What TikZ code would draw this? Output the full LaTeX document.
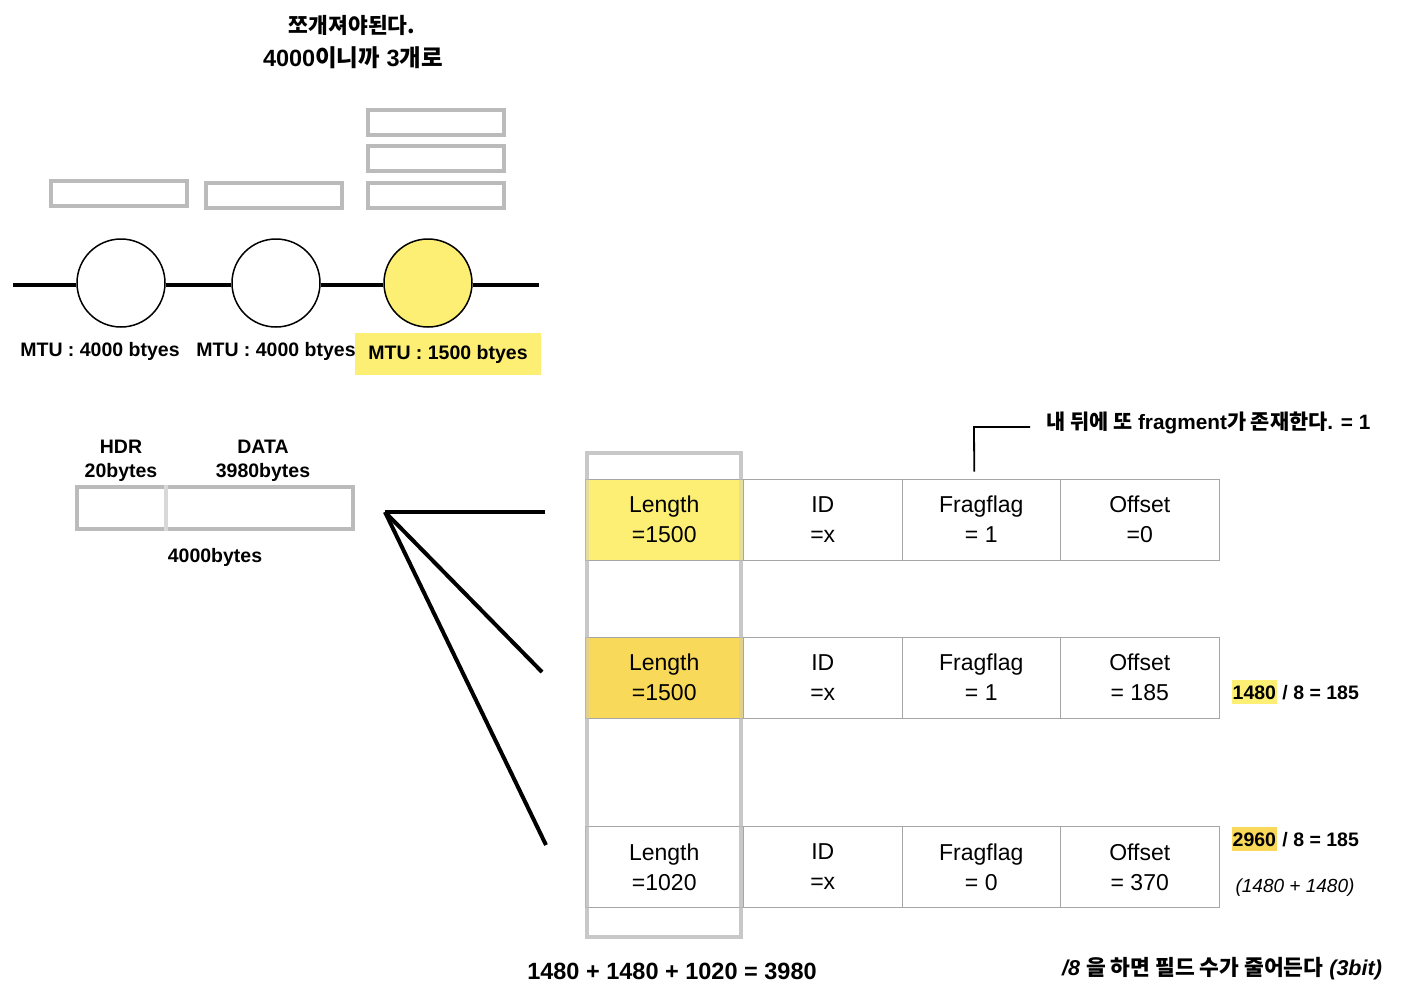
\documentclass[tikz,border=0pt]{standalone}
\usepackage{fontspec}
\setmainfont{Liberation Sans}
\newfontfamily\kr{Noto Sans CJK KR}
\usetikzlibrary{calc}
\definecolor{boxgray}{HTML}{BBBBBB}
\definecolor{divgray}{HTML}{D8D8D8}
\definecolor{colgray}{HTML}{C8C8C8}
\definecolor{cellgray}{HTML}{A6A6A6}
\definecolor{hlA}{HTML}{FDEF74}
\definecolor{hlB}{HTML}{F9D95A}
\begin{document}
\begin{tikzpicture}[x=1pt,y=-1pt,
 lbl/.style={font=\fontsize{19.5}{24}\selectfont\bfseries, inner sep=0, align=center},
 klbl/.style={font=\fontsize{20.8}{24}\selectfont\bfseries, inner sep=0},
 kttl/.style={font=\fontsize{22}{25}\selectfont\bfseries, inner sep=0},
 gbox/.style={draw=boxgray, line width=4, minimum width=136, minimum height=25, inner sep=0},
 router/.style={circle, draw=black, line width=1.5, minimum size=88, inner sep=0, fill=white},
 cell/.style={draw=cellgray, line width=1, minimum width=158.5, minimum height=81, inner sep=0, align=center, font=\fontsize{23}{30}\selectfont},
 wire/.style={line width=4, black},
 hl/.style={inner xsep=0.5, inner ysep=5, font=\fontsize{19.5}{24}\selectfont\bfseries, anchor=base west},
]
\useasboundingbox[fill=white] (0,0) rectangle (1402,1002);

% title
\node[kttl, font=\fontsize{21.5}{25}\selectfont\bfseries] (t1) at (352,25) {{\kr 쪼개져야된다.}};
\node[kttl, font=\fontsize{23.5}{27}\selectfont\bfseries] (t2) at (353,58) {4000{\kr 이니까} 3{\kr 개로}};

% packets above routers
\node[gbox] (p1) at (119,193) {};
\node[gbox] (p2) at (273.5,195.5) {};
\node[gbox] (p3a) at (436,122.5) {};
\node[gbox] (p3b) at (436,158.5) {};
\node[gbox] (p3c) at (436,195.5) {};

% network line with routers
\coordinate (wL) at (13,285);
\coordinate (wR) at (539,285);
\node[router] (r1) at (121,283) {};
\node[router] (r2) at (276,283) {};
\node[router, fill=hlA] (r3) at (428,283) {};
\draw[wire] (wL) -- (r1.west |- wL);
\draw[wire] (r1.east |- wL) -- (r2.west |- wL);
\draw[wire] (r2.east |- wL) -- (r3.west |- wL);
\draw[wire] (r3.east |- wL) -- (wR);

\node[lbl] (m1) at (100,351) {MTU : 4000 btyes};
\node[lbl] (m2) at (276,351) {MTU : 4000 btyes};
\node[lbl, fill=hlA, minimum width=186, minimum height=42] (m3) at (448,354) {MTU : 1500 btyes};

% original packet
\node[lbl] (hdrl) at (121,461) {HDR\\20bytes};
\node[lbl] (datal) at (263,461) {DATA\\3980bytes};
\node[draw=boxgray, line width=4, minimum width=276, minimum height=42, inner sep=0] (pkt) at (215,508) {};
\draw[divgray, line width=4] ($(pkt.north west)+(91,0)$) -- ($(pkt.south west)+(91,0)$);
\node[lbl] (pktl) at (215,557) {4000bytes};

% fan
\coordinate (fan) at (385,512);
\coordinate (f1) at (545,512);
\coordinate (f2) at (542,672);
\coordinate (f3) at (546,845);
\draw[wire] (fan) -- (f1);
\draw[wire] (fan) -- (f2);
\draw[wire] (fan) -- (f3);

% length column frame (behind the cells' fill, shown through)
\node[draw=colgray, line width=4, minimum width=154, minimum height=484, inner sep=0] (lencol) at (664,695) {};

% fragments
\node[cell, fill=hlA] (c11) at (664.25,519.5) {Length\\=1500};
\node[cell] (c12) at (822.75,519.5) {ID\\=x};
\node[cell] (c13) at (981.25,519.5) {Fragflag\\= 1};
\node[cell] (c14) at (1139.75,519.5) {Offset\\=0};

\node[cell, fill=hlB] (c21) at (664.25,677.5) {Length\\=1500};
\node[cell] (c22) at (822.75,677.5) {ID\\=x};
\node[cell] (c23) at (981.25,677.5) {Fragflag\\= 1};
\node[cell] (c24) at (1139.75,677.5) {Offset\\= 185};

\node[cell] (c31) at (664.25,867) {Length\\=1020};
\node[cell] (c32) at (822.75,867) {ID\\=x};
\node[cell] (c33) at (981.25,867) {Fragflag\\= 0};
\node[cell] (c34) at (1139.75,867) {Offset\\= 370};

% frame shows faintly over the cells
\node[draw=colgray, draw opacity=0.45, line width=4, minimum width=154, minimum height=484, inner sep=0] (lencolb) at (664,695) {};

% callout
\coordinate (co1) at (974,427);
\coordinate (co2) at (1030,427);
\draw[line width=1.8] ($(c13.north)+(-7,-7)$) -- (co1) -- (co2);
\node[klbl, anchor=west] (cot) at (1046,423) {{\kr 내 뒤에 또} fragment{\kr 가 존재한다}. = 1};

% offset notes
\node[hl, fill=hlA] (h1) at (1232,699) {1480};
\node[hl, anchor=base west, xshift=5] (h1r) at (h1.base east) {/ 8 = 185};
\node[hl, fill=hlB] (h2) at (1232,846) {2960};
\node[hl, anchor=base west, xshift=5] (h2r) at (h2.base east) {/ 8 = 185};
\node[inner sep=0, font=\fontsize{19}{23}\selectfont\itshape] (h2n) at (1295,888) {(1480 + 1480)};

% bottom
\node[inner sep=0, font=\fontsize{23.5}{27}\selectfont\bfseries] (sum) at (672,971) {1480 + 1480 + 1020 = 3980};
\node[klbl, anchor=west, font=\fontsize{21.5}{25}\selectfont\bfseries] (note) at (1062,969) {{\itshape /8} {\kr 을 하면 필드 수가 줄어든다} {\itshape (3bit)}};
\end{tikzpicture}
\end{document}
